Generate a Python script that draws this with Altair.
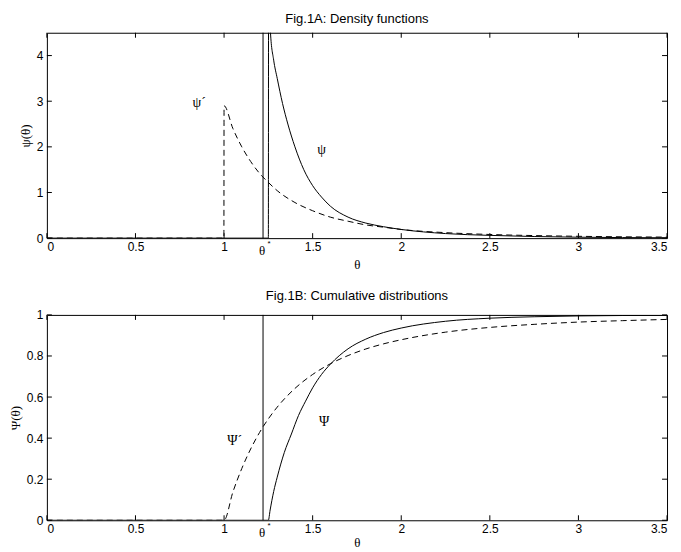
import altair as alt
import pandas as pd

theta_star = 1.22

# Fig.1A: densities
psi_theta = [0, 1.25, 1.252, 1.262, 1.28, 1.30, 1.33, 1.36, 1.40, 1.45, 1.5, 1.55, 1.6, 1.7,
             1.8, 1.9, 2.0, 2.25, 2.5, 2.75, 3.0, 3.25, 3.5]
psi_vals = [0, 0, 12, 4.5, 3.9, 3.5, 2.95, 2.5, 2.0, 1.5, 1.15, 0.9, 0.7, 0.46,
            0.33, 0.25, 0.19, 0.10, 0.06, 0.035, 0.02, 0.012, 0.008]
psip_theta = [0, 0.999, 1.0, 1.05, 1.1, 1.15, 1.2, 1.25, 1.3, 1.4, 1.5, 1.6, 1.7, 1.8, 1.9,
              2.0, 2.25, 2.5, 2.75, 3.0, 3.25, 3.5]
psip_vals = [0, 0, 2.9, 2.4, 2.0, 1.68, 1.42, 1.22, 1.04, 0.78, 0.60, 0.46, 0.37, 0.29, 0.24,
             0.19, 0.12, 0.08, 0.056, 0.04, 0.029, 0.022]

# Fig.1B: cumulative distributions
Psi_theta = [0, 1.25, 1.26, 1.28, 1.30, 1.34, 1.38, 1.42, 1.46, 1.5, 1.55, 1.6, 1.7, 1.8,
             1.9, 2.0, 2.25, 2.5, 2.75, 3.0, 3.25, 3.5]
Psi_vals = [0, 0, 0.05, 0.14, 0.21, 0.33, 0.42, 0.51, 0.58, 0.645, 0.71, 0.76, 0.835, 0.882,
            0.914, 0.936, 0.969, 0.984, 0.991, 0.995, 0.997, 0.998]
Psip_theta = [0, 1.0, 1.05, 1.1, 1.15, 1.2, 1.25, 1.3, 1.4, 1.5, 1.6, 1.7, 1.8, 1.9, 2.0,
              2.25, 2.5, 2.75, 3.0, 3.25, 3.5]
Psip_vals = [0, 0, 0.138, 0.252, 0.347, 0.427, 0.494, 0.551, 0.642, 0.71, 0.762, 0.802, 0.834,
             0.859, 0.879, 0.916, 0.939, 0.954, 0.965, 0.972, 0.978]

x_ticks = [0, 0.5, 1, 1.5, 2, 2.5, 3, 3.5]
y_ticks_a = [0, 1, 2, 3, 4]
y_ticks_b = [0, 0.2, 0.4, 0.6, 0.8, 1]

labels_a = ["ψ´", "ψ"]
labels_a_x = [0.86, 1.55]
labels_a_y = [2.95, 1.92]
labels_b = ["Ψ´", "Ψ"]
labels_b_x = [1.06, 1.565]
labels_b_y = [0.385, 0.48]

W, H = 622, 206
TICK = 5
SANS = "Liberation Sans"
SERIF = "Liberation Serif"


def frame(xs, ys):
    return pd.DataFrame({"t": xs, "v": ys, "i": list(range(len(xs)))})


def panel(solid, dashed, ydom, yticks, ytitle, title, labels, xpad):
    xs = alt.Scale(domain=[0, 3.5], nice=False, zero=False)
    ys = alt.Scale(domain=ydom, nice=False, zero=False)
    x_main = alt.X("t:Q", scale=xs, axis=alt.Axis(
        orient="bottom", values=x_ticks, format="~g", ticks=False, tickSize=0,
        domain=False, grid=False, labelPadding=3, title="θ", titleFont=SERIF,
        titleFontSize=13, titleFontWeight="normal", titlePadding=xpad))
    y_main = alt.Y("v:Q", scale=ys, axis=alt.Axis(
        orient="left", values=yticks, format="~g", ticks=False, tickSize=0,
        domain=False, grid=False, labelPadding=4, title=ytitle, titleFont=SERIF,
        titleFontSize=13, titleFontWeight="normal", titlePadding=4))
    x_plain = alt.X("t:Q", scale=xs, axis=None)
    y_plain = alt.Y("v:Q", scale=ys, axis=None)

    solid_layer = alt.Chart(frame(*solid)).mark_line(
        color="black", strokeWidth=1, clip=True, interpolate="monotone").encode(
        x=x_main, y=y_main, order="i:Q")
    dashed_layer = alt.Chart(frame(*dashed)).mark_line(
        color="black", strokeWidth=1, strokeDash=[6, 4], clip=True,
        interpolate="monotone").encode(x=x_plain, y=y_plain, order="i:Q")
    rule = alt.Chart(pd.DataFrame({"t": [theta_star]})).mark_rule(
        color="black", strokeWidth=1).encode(x=x_plain)

    xt = pd.DataFrame({"t": x_ticks})
    yt = pd.DataFrame({"v": yticks})
    tick_b = alt.Chart(xt).mark_rule(color="black").encode(
        x=x_plain, y=alt.value(H), y2=alt.value(H - TICK))
    tick_t = alt.Chart(xt).mark_rule(color="black").encode(
        x=x_plain, y=alt.value(0), y2=alt.value(TICK))
    tick_l = alt.Chart(yt).mark_rule(color="black").encode(
        y=y_plain, x=alt.value(0), x2=alt.value(TICK))
    tick_r = alt.Chart(yt).mark_rule(color="black").encode(
        y=y_plain, x=alt.value(W), x2=alt.value(W - TICK))

    star_df = pd.DataFrame({"t": [theta_star]})
    th_lab = alt.Chart(star_df).mark_text(
        font=SERIF, fontSize=13, color="black", baseline="middle", dx=-1).encode(
        x=x_plain, y=alt.value(H + 13), text=alt.value("θ"))
    st_lab = alt.Chart(star_df).mark_text(
        font=SANS, fontSize=8, color="black", baseline="middle", dx=6).encode(
        x=x_plain, y=alt.value(H + 6), text=alt.value("*"))
    txt, tx, ty = labels
    ann = alt.Chart(pd.DataFrame({"s": txt, "t": tx, "v": ty})).mark_text(
        font=SERIF, fontSize=14, color="black").encode(
        x=x_plain, y=y_plain, text="s:N")
    return alt.layer(solid_layer, dashed_layer, rule, tick_b, tick_t, tick_l, tick_r,
                     ann, th_lab, st_lab).resolve_axis(
        x="independent", y="independent").properties(
        width=W, height=H,
        title=alt.TitleParams(title, anchor="middle", frame="group", offset=6))


top = panel((psi_theta, psi_vals), (psip_theta, psip_vals), [0, 4.5], y_ticks_a, "ψ(θ)",
            "Fig.1A: Density functions", (labels_a, labels_a_x, labels_a_y), 6)
bottom = panel((Psi_theta, Psi_vals), (Psip_theta, Psip_vals), [0, 1], y_ticks_b, "Ψ(θ)",
               "Fig.1B: Cumulative distributions", (labels_b, labels_b_x, labels_b_y), 2)

chart = alt.vconcat(top, bottom, spacing=17).properties(
    padding={"left": 0, "top": 4, "right": 5, "bottom": 2}
).configure_view(stroke="black", strokeWidth=1).configure_axis(
    labelColor="black", tickColor="black", labelFont=SANS, labelFontSize=12,
    titleColor="black"
).configure_title(font=SANS, fontSize=13, fontWeight="normal", color="black")

chart.save("out.html", embed_options={"renderer": "svg", "actions": False})
